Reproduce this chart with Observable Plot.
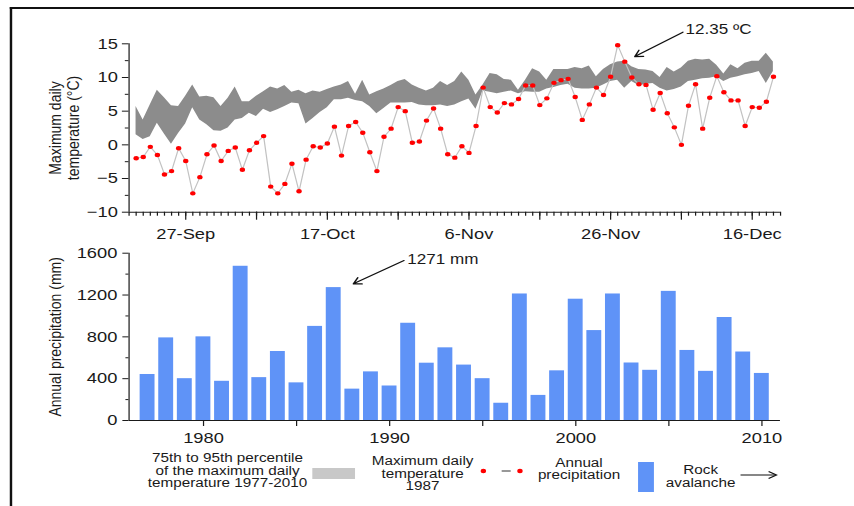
<!DOCTYPE html>
<html>
<head>
<meta charset="utf-8">
<script src="https://cdn.jsdelivr.net/npm/d3@7"></script>
<script src="https://cdn.jsdelivr.net/npm/@observablehq/plot@0.6"></script>
<style>
html, body { margin: 0; padding: 0; background: #fff; overflow: hidden; }
#wrap { position: relative; width: 700px; height: 506px; transform: scaleX(1.22); transform-origin: 0 0;
  font-family: "Liberation Sans", Arial, Helvetica, sans-serif; color: #1a1a1a; }
#frame { position: absolute; left: 8px; top: 7px; width: 760px; height: 560px; border-left: 2px solid #111; border-top: 2px solid #111; }
#top { position: absolute; left: 0; top: 0; }
#bottom { position: absolute; left: 0; top: 245px; }
.leg { position: absolute; font-size: 12.5px; line-height: 12.5px; text-align: center; transform: translate(-50%, -50%); white-space: nowrap; }
.sw { position: absolute; }
</style>
</head>
<body>
<div id="wrap">
  <div id="frame"></div>
  <div id="top"></div>
  <div id="bottom"></div>
  <div id="legend"></div>
</div>
<script>
// ---------- Data ----------
// Daily maximum temperature 1987, 20-Sep .. 19-Dec (°C)
const tmax1987 = [
  -2.0, -1.8, -0.3, -1.5, -4.4, -3.9, -0.5, -2.4, -7.2, -4.8,
  -1.4, -0.1, -2.4, -0.9, -0.4, -3.7, -0.8, 0.3, 1.3, -6.2,
  -7.2, -5.8, -2.8, -6.9, -2.2, -0.2, -0.4, 0.2, 2.7, -1.6,
  2.8, 3.4, 1.8, -1.1, -3.9, 1.2, 2.4, 5.6, 5.0, 0.3,
  0.5, 3.6, 5.4, 2.4, -1.4, -1.9, -0.2, -1.2, 2.8, 8.5,
  5.6, 4.8, 6.2, 6.0, 6.8, 8.8, 8.8, 5.9, 6.9, 9.2,
  9.6, 9.8, 7.1, 3.7, 6.0, 8.5, 7.4, 10.1, 14.8, 12.35,
  10.0, 9.0, 8.9, 5.2, 7.7, 4.7, 2.6, 0.0, 5.8, 9.0,
  2.4, 7.0, 10.2, 7.8, 6.6, 6.6, 2.8, 5.6, 5.5, 6.4,
  10.1
];
// 75th percentile of daily max temperature 1977-2010
const p75 = [
  1.5, 0.8, 1.2, 3.2, 1.6, 0.1, 1.7, 3.1, 5.5, 3.7,
  3.0, 2.1, 2.0, 2.5, 3.7, 3.9, 4.7, 4.2, 5.3, 4.8,
  5.2, 5.7, 6.2, 6.1, 3.1, 3.9, 4.8, 5.5, 6.7, 6.7,
  6.9, 6.6, 6.4, 5.7, 4.6, 5.4, 6.2, 6.2, 6.2, 6.3,
  5.9, 5.8, 5.8, 5.9, 5.7, 5.9, 6.4, 6.8, 5.3, 8.0,
  7.8, 7.6, 7.8, 8.0, 7.6, 7.9, 7.8, 7.8, 8.3, 8.5,
  8.8, 9.0, 8.4, 8.3, 8.3, 8.4, 8.9, 9.4, 9.6, 8.4,
  9.4, 8.8, 9.0, 9.1, 8.4, 8.0, 8.2, 8.6, 9.4, 9.6,
  9.8, 9.9, 10.1, 9.4, 9.9, 10.1, 10.4, 10.6, 10.9, 9.1,
  10.9
];
// 95th percentile of daily max temperature 1977-2010
const p95 = [
  5.7, 3.7, 5.9, 8.1, 7.0, 5.8, 5.7, 7.2, 8.9, 7.1,
  7.2, 7.0, 5.7, 6.9, 8.6, 6.4, 6.4, 7.2, 7.9, 8.6,
  8.3, 8.8, 7.8, 8.1, 7.6, 8.0, 7.8, 8.2, 8.6, 8.9,
  9.4, 7.5, 9.6, 7.4, 7.9, 8.3, 8.8, 9.4, 9.7, 8.9,
  8.4, 8.0, 8.4, 9.4, 8.8, 9.4, 10.8, 9.6, 7.4, 8.9,
  10.6, 10.4, 9.7, 9.6, 8.1, 9.6, 11.3, 10.8, 9.6, 11.2,
  11.2, 11.2, 11.5, 11.3, 11.7, 10.1, 11.2, 11.9, 12.3, 12.4,
  11.6, 11.2, 11.1, 10.9, 10.0, 11.5, 10.8, 11.4, 12.4, 12.7,
  12.6, 12.7, 11.8, 10.5, 11.9, 11.3, 12.1, 12.4, 12.4, 13.6,
  12.3
];
const firstDay = [1987, 8, 20];            // 20-Sep-1987 (UTC, month 0-based)
const dayDomain = [[1987, 8, 19], [1987, 11, 20]];
const xTickLabelsTop = ["27-Sep", "17-Oct", "6-Nov", "26-Nov", "16-Dec"];
const yTicksTop = [-10, -5, 0, 5, 10, 15];
const yMinorTop = [-7.5, -2.5, 2.5, 7.5, 12.5];

const years = [1977, 1978, 1979, 1980, 1981, 1982, 1983, 1984, 1985, 1986,
  1987, 1988, 1989, 1990, 1991, 1992, 1993, 1994, 1995, 1996,
  1997, 1998, 1999, 2000, 2001, 2002, 2003, 2004, 2005, 2006,
  2007, 2008, 2009, 2010];
const precipitation = [440, 790, 400, 800, 375, 1475, 410, 660, 360, 900,
  1271, 300, 465, 330, 930, 548, 695, 530, 400, 165,
  1210, 240, 475, 1160, 860, 1210, 550, 480, 1235, 670,
  470, 985, 655, 450];
const xTicksBottom = [1980, 1985, 1990, 1995, 2000, 2005, 2010];
const yTicksBottom = [0, 400, 800, 1200, 1600];
const yMinorBottom = [200, 600, 1000, 1400];

const annoTemp = [{ x1: [1987, 11, 6, 5], y1: 16.73, x2: [1987, 10, 29, 10], y2: 13.1, tx: [1987, 11, 6, 14], ty: 17.17, label: "12.35 ºC" }];
const annoPrec = [{ x1: 1990.77, y1: 1530, x2: 1988.05, y2: 1307, tx: 1990.95, ty: 1540, label: "1271 mm" }];

// ---------- Build ----------
const U = a => new Date(Date.UTC(a[0], a[1], a[2], a[3] || 0));
const start = U(firstDay);
const tempData = tmax1987.map((t, i) => ({ date: d3.utcDay.offset(start, i), t, lo: p75[i], hi: p95[i] }));
const xDomain = dayDomain.map(U);
const fmt = d3.utcFormat("%-d-%b");
const minorDays = d3.utcDay.range(xDomain[0], d3.utcDay.offset(xDomain[1], 1));
const majorDays = minorDays.filter(d => (d - U([1987, 8, 27])) % (10 * 864e5) === 0 && d >= U([1987, 8, 27]));
const annoT = annoTemp.map(a => ({ x1: U(a.x1), y1: a.y1, x2: U(a.x2), y2: a.y2, tx: U(a.tx), ty: a.ty, label: a.label }));

const font = '"Liberation Sans", Arial, Helvetica, sans-serif';
const axisColor = "#1a1a1a";

const topPlot = Plot.plot({
  width: 700, height: 250,
  marginLeft: 105.3, marginRight: 60.7, marginTop: 43.3, marginBottom: 38.3,
  style: { fontFamily: font, fontSize: "15px", color: axisColor, background: "transparent", overflow: "visible" },
  x: { type: "utc", domain: xDomain },
  y: { domain: [-10, 15] },
  marks: [
    Plot.areaY(tempData, { x: "date", y1: "lo", y2: "hi", fill: "#8c8c8c" }),
    Plot.line(tempData, { x: "date", y: "t", stroke: "#c2c2c2", strokeWidth: 1 }),
    Plot.dot(tempData, { x: "date", y: "t", r: 2.2, fill: "#ff0000", stroke: "none" }),
    Plot.ruleX([xDomain[0]], { stroke: axisColor }),
    Plot.ruleY([-10], { stroke: axisColor }),
    Plot.axisY({ ticks: yMinorTop, tickSize: 3, tickFormat: () => "", label: null }),
    Plot.axisY({ ticks: yTicksTop, tickSize: 5.4, tickPadding: 3.8, tickFormat: d3.format("d"), label: null }),
    Plot.axisX({ ticks: minorDays, tickSize: 4, tickFormat: () => "", label: null }),
    Plot.axisX({ ticks: majorDays, tickSize: 8, tickPadding: 8.4,
      tickFormat: d => xTickLabelsTop.includes(fmt(d)) ? fmt(d) : "", label: null }),
    Plot.text(["Maximum daily\ntemperature (°C)"], { text: d => d, frameAnchor: "left", textAnchor: "middle", dx: -53, rotate: -90, fontSize: 14, lineHeight: 1.05 }),
    Plot.arrow(annoT, { x1: "x1", y1: "y1", x2: "x2", y2: "y2", stroke: "#111", strokeWidth: 1.2, headLength: 9 }),
    Plot.text(annoT, { x: "tx", y: "ty", text: "label", textAnchor: "start", fontSize: 14 })
  ]
});
document.getElementById("top").appendChild(topPlot);

const precData = years.map((y, i) => ({ year: y, mm: precipitation[i] }));
const bottomPlot = Plot.plot({
  width: 700, height: 205,
  marginLeft: 105.3, marginRight: 60.7, marginTop: 7.7, marginBottom: 30,
  style: { fontFamily: font, fontSize: "15px", color: axisColor, background: "transparent", overflow: "visible" },
  x: { domain: [1976, 2011] },
  y: { domain: [0, 1600] },
  marks: [
    Plot.rectY(precData, { x1: d => d.year - 0.4, x2: d => d.year + 0.4, y: "mm", fill: "#5f93f7" }),
    Plot.ruleX([1976], { stroke: axisColor }),
    Plot.ruleY([0], { stroke: axisColor }),
    Plot.axisY({ ticks: yMinorBottom, tickSize: 2.5, tickFormat: () => "", label: null }),
    Plot.axisY({ ticks: yTicksBottom, tickSize: 5, tickPadding: 4.6, tickFormat: d => String(d), label: null }),
    Plot.axisX({ ticks: xTicksBottom, tickSize: 6, tickPadding: 5.7, tickFormat: d => d % 10 === 0 ? String(d) : "", label: null }),
    Plot.text(["Annual precipitation (mm)"], { text: d => d, frameAnchor: "left", textAnchor: "middle", dx: -60, rotate: -90, fontSize: 14 }),
    Plot.arrow(annoPrec, { x1: "x1", y1: "y1", x2: "x2", y2: "y2", stroke: "#111", strokeWidth: 1.2, headLength: 9 }),
    Plot.text(annoPrec, { x: "tx", y: "ty", text: "label", textAnchor: "start", fontSize: 14 })
  ]
});
document.getElementById("bottom").appendChild(bottomPlot);

// ---------- Legend ----------
const legend = document.getElementById("legend");
legend.innerHTML = `
  <div class="leg" style="left:186.5px; top:471px;">75th to 95th percentile<br>of the maximum daily<br>temperature 1977-2010</div>
  <div class="sw" style="left:255.5px; top:467.7px; width:35px; height:11.3px; background:#c8c8c8;"></div>
  <div class="leg" style="left:346.4px; top:474.3px;">Maximum daily<br>temperature<br>1987</div>
  <svg class="sw" style="left:392px; top:465px;" width="40" height="12">
    <circle cx="4.2" cy="6" r="2.2" fill="#ff0000"></circle>
    <line x1="19.2" x2="26.6" y1="6" y2="6" stroke="#333" stroke-width="1.2"></line>
    <circle cx="34.2" cy="6" r="2.2" fill="#ff0000"></circle>
  </svg>
  <div class="leg" style="left:474.6px; top:468.5px;">Annual<br>precipitation</div>
  <div class="sw" style="left:523px; top:461.7px; width:12.6px; height:30px; background:#5f93f7;"></div>
  <div class="leg" style="left:574.3px; top:476.3px;">Rock<br>avalanche</div>
  <svg class="sw" style="left:606px; top:469px;" width="32" height="12">
    <line x1="1" x2="30" y1="6" y2="6" stroke="#111" stroke-width="1.1"></line>
    <path d="M24,2.5 L30.5,6 L24,9.5" fill="none" stroke="#111" stroke-width="1.1"></path>
  </svg>
`;
</script>
</body>
</html>
